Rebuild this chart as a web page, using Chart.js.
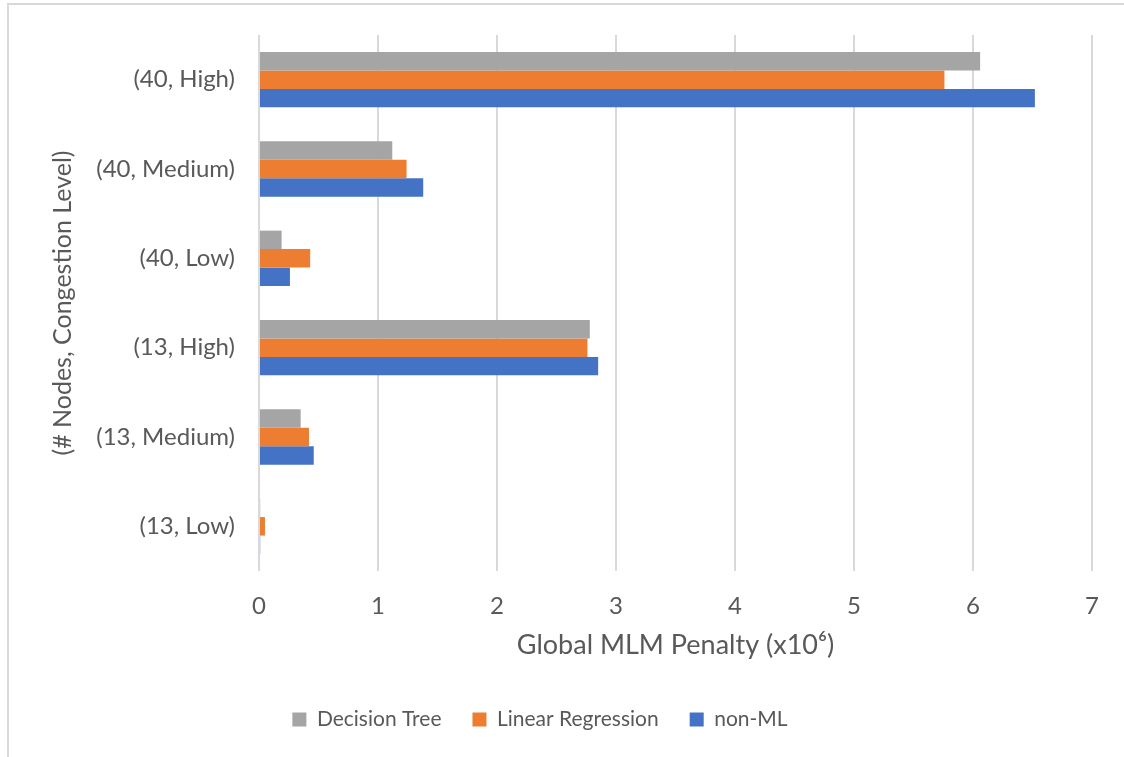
<!DOCTYPE html>
<html>
<head>
<meta charset="utf-8">
<script src="https://cdn.jsdelivr.net/npm/chart.js@4.4.1/dist/chart.umd.min.js"></script>
<style>
  html, body { margin: 0; padding: 0; background: #ffffff; }
  #wrap { position: relative; width: 1124px; height: 757px; }
  canvas { display: block; }
</style>
</head>
<body>
<div id="wrap"><canvas id="chart" width="1124" height="757"></canvas></div>
<script>
// Scenario labels, top to bottom
const categories = ['(40, High)', '(40, Medium)', '(40, Low)', '(13, High)', '(13, Medium)', '(13, Low)'];

// Global MLM penalty per scenario, in millions
const decisionTree     = [6.06, 1.12, 0.19, 2.78, 0.35, 0.01];
const linearRegression = [5.76, 1.24, 0.43, 2.76, 0.42, 0.05];
const nonML            = [6.52, 1.38, 0.26, 2.85, 0.46, 0.01];

// Horizontal axis ticks
const xTicks = [0, 1, 2, 3, 4, 5, 6, 7];

const seriesNames = ['Decision Tree', 'Linear Regression', 'non-ML'];
const seriesColors = ['#A5A5A5', '#ED7D31', '#4472C4'];

const FONT = 'Lato, "Open Sans", sans-serif';
const TEXT = '#595959';

// White background plus the thin frame on the left and top edges
const framePlugin = {
  id: 'frame',
  beforeDraw(chart) {
    const ctx = chart.ctx;
    ctx.save();
    ctx.fillStyle = '#ffffff';
    ctx.fillRect(0, 0, chart.width, chart.height);
    ctx.strokeStyle = '#d9d9d9';
    ctx.lineWidth = 2;
    ctx.beginPath();
    ctx.moveTo(8, chart.height);
    ctx.lineTo(8, 4);
    ctx.lineTo(chart.width, 4);
    ctx.stroke();
    ctx.restore();
  }
};

// Nudge the legend row slightly left so it sits under the whole figure
const legendShift = {
  id: 'legendShift',
  afterLayout(chart) {
    const lg = chart.legend;
    if (lg) { lg.left -= 6; lg.right -= 6; }
  }
};

new Chart(document.getElementById('chart'), {
  type: 'bar',
  data: {
    labels: categories,
    datasets: [decisionTree, linearRegression, nonML].map((vals, i) => ({
      label: seriesNames[i],
      data: vals,
      backgroundColor: seriesColors[i],
      borderWidth: 0,
      barPercentage: 1.0,
      categoryPercentage: 0.62
    }))
  },
  options: {
    indexAxis: 'y',
    responsive: false,
    animation: false,
    layout: { padding: { top: 35, right: 32, bottom: 17, left: 0 } },
    plugins: {
      legend: {
        position: 'bottom',
        labels: {
          boxWidth: 14,
          boxHeight: 14,
          padding: 31,
          color: TEXT,
          font: { family: FONT, size: 21 }
        }
      },
      tooltip: { enabled: false }
    },
    scales: {
      x: {
        type: 'linear',
        min: 0,
        max: 7,
        afterBuildTicks(scale) { scale.ticks = xTicks.map(v => ({ value: v })); },
        afterFit(scale) {
          scale.height = 107;
          scale.paddingLeft = 0;
          scale.paddingRight = 0;
        },
        grid: { color: '#d9d9d9', lineWidth: 2, drawTicks: false },
        border: { display: false },
        ticks: { color: TEXT, padding: 21, font: { family: FONT, size: 24 } },
        title: {
          display: true,
          text: 'Global MLM Penalty (x10\u2076)',
          color: TEXT,
          font: { family: FONT, size: 27 },
          padding: { top: 0, bottom: 17 }
        }
      },
      y: {
        afterFit(scale) {
          scale.width = 259;
          scale.paddingTop = 0;
          scale.paddingBottom = 0;
        },
        grid: { display: false, drawTicks: false },
        border: { display: false },
        ticks: { color: TEXT, padding: 24, font: { family: FONT, size: 24 } },
        title: {
          display: true,
          text: '(# Nodes, Congestion Level)',
          color: TEXT,
          font: { family: FONT, size: 25 },
          padding: { top: 48, bottom: 0 }
        }
      }
    }
  },
  plugins: [framePlugin, legendShift]
});
</script>
</body>
</html>
